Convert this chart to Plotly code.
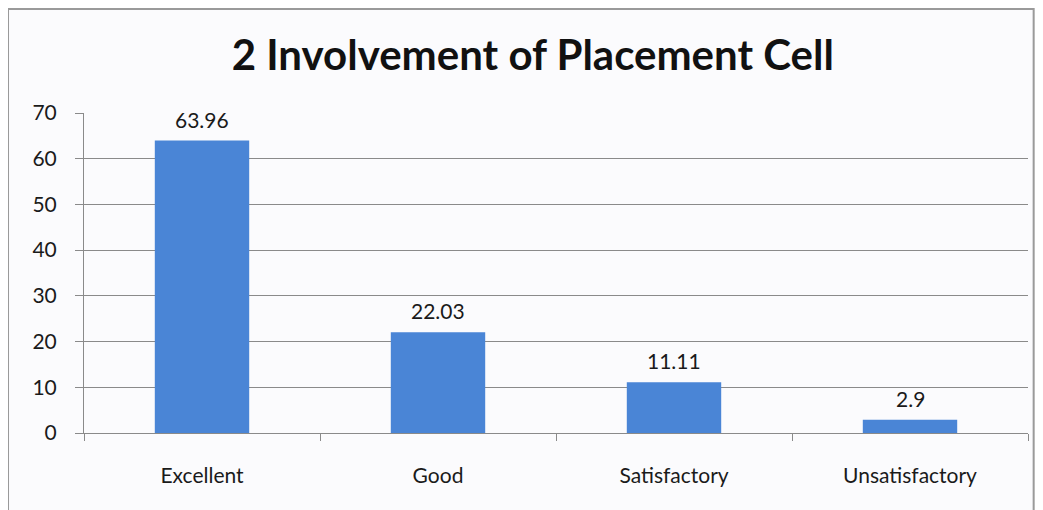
import plotly.graph_objects as go

categories = ["Excellent", "Good", "Satisfactory", "Unsatisfactory"]
values = [63.96, 22.03, 11.11, 2.9]
labels = ["63.96", "22.03", "11.11", "2.9"]

FONT = "Lato, Open Sans, sans-serif"

fig = go.Figure()
fig.add_trace(go.Bar(x=categories, y=values,
                     marker=dict(color="#4A85D6", line=dict(width=0)),
                     width=0.4, cliponaxis=False))

# value labels sit a little higher above the bars than plotly's outside text
for cat, val, lab in zip(categories, values, labels):
    fig.add_annotation(x=cat, y=val, text=lab, showarrow=False, yanchor="bottom", yshift=7,
                       font=dict(size=21, color="#1a1a1a", family=FONT))

# the page puts the figure 8px in from the top-left corner
fig.update_layout(
    width=1027, height=502,
    margin=dict(l=76, r=7, t=105, b=77),
    paper_bgcolor="#fbfbfd", plot_bgcolor="#fbfbfd",
    title=dict(text="<b>2 Involvement of Placement Cell</b>", x=0.511, xanchor="center",
               y=0.905, yanchor="middle",
               font=dict(size=42, color="#111111", family=FONT)),
    font=dict(family=FONT, size=21, color="#1a1a1a"),
    showlegend=False,
)
fig.update_yaxes(range=[0, 70], dtick=10, showgrid=True, gridcolor="#8a8a8a", gridwidth=1,
                 showline=True, linecolor="#8a8a8a", ticks="outside", ticklen=8,
                 tickcolor="#8a8a8a", zeroline=False, ticklabelstandoff=14)
fig.update_xaxes(showline=True, linecolor="#8a8a8a", ticks="outside", ticklen=7,
                 tickcolor="#8a8a8a", tickson="boundaries", ticklabelstandoff=24)

# chart frame
fig.add_shape(type="rect", xref="paper", yref="paper", x0=-0.0805, x1=1.006, y0=-0.6, y1=1.325,
              line=dict(color="#9a9a9a", width=2), layer="below")

fig.write_html("out.html")
